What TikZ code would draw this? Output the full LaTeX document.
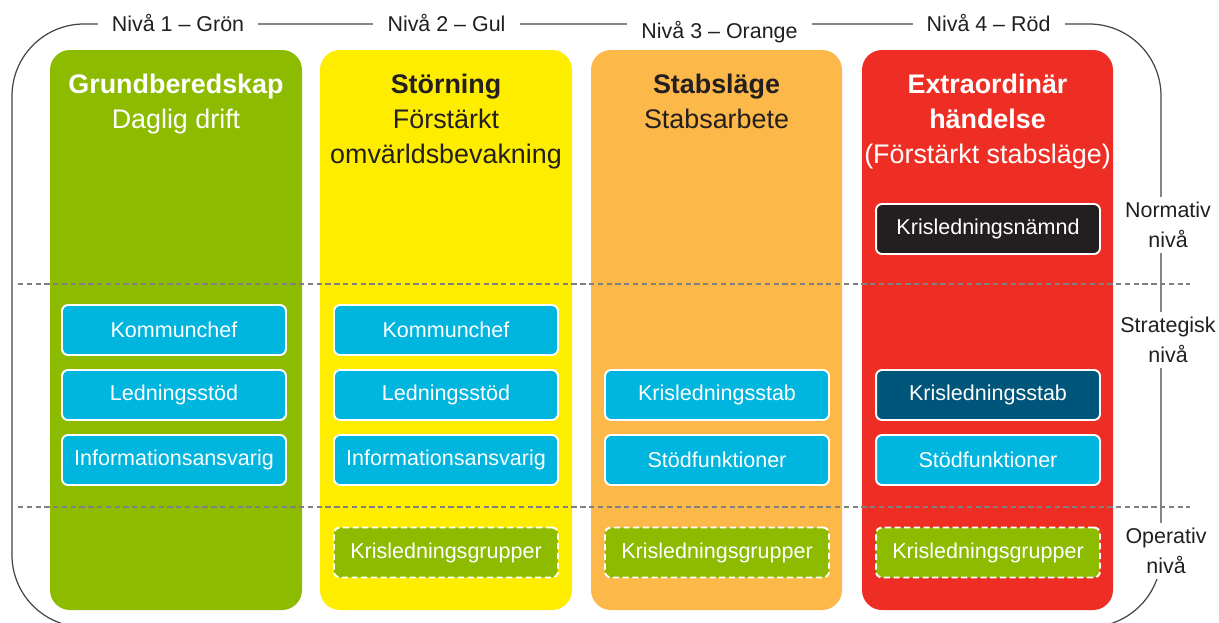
\documentclass[tikz,border=0pt]{standalone}
\usepackage{fontspec}
\setmainfont{Liberation Sans}
\definecolor{cgreen}{RGB}{141,187,0}
\definecolor{cyellow}{RGB}{255,237,0}
\definecolor{corange}{RGB}{252,185,73}
\definecolor{cred}{RGB}{238,46,36}
\definecolor{ccyan}{RGB}{0,181,222}
\definecolor{cdblue}{RGB}{0,85,122}
\definecolor{cdark}{RGB}{35,31,32}
\definecolor{cline}{RGB}{70,70,70}
\definecolor{cdash}{RGB}{128,128,128}
\begin{document}
\begin{tikzpicture}[x=0.02cm,y=-0.02cm,
  col/.style={rounded corners=0.4cm},
  frame/.style={draw=cline, line width=0.7pt},
  levelsep/.style={draw=cdash, line width=0.8pt, dash pattern=on 3pt off 2pt},
  toplabel/.style={fill=white, inner xsep=8pt, inner ysep=2pt, text=cdark, font=\fontsize{12.2}{14}\selectfont},
  sidelabel/.style={fill=white, align=center, inner xsep=1pt, inner ysep=3pt, text=cdark, font=\fontsize{12.2}{17}\selectfont},
  head/.style={anchor=north, align=center, inner sep=0pt, font=\fontsize{15.3}{20.1}\selectfont},
  box/.style={draw=white, line width=1.1pt, rounded corners=0.12cm, minimum width=4.48cm, minimum height=1.0cm, font=\fontsize{12.25}{14}\selectfont, text=white, inner sep=0pt},
  cbox/.style={box, fill=ccyan},
  gbox/.style={box, fill=cgreen, dash pattern=on 3.5pt off 2pt}]
\clip (0,0) rectangle (1219,622);
\fill[white] (0,0) rectangle (1219,622);
% outer frame
\draw[frame, rounded corners=1.44cm] (12,24) rectangle (1161,627);
% columns
\fill[cgreen, col] (50,50) rectangle (302,610);
\fill[cyellow, col] (320,50) rectangle (572,610);
\fill[corange, col] (591,50) rectangle (842,610);
\fill[cred, col] (862,50) rectangle (1113,610);
% level separators
\coordinate (s1a) at (18,284);
\coordinate (s1b) at (1190,284);
\coordinate (s2a) at (18,507);
\coordinate (s2b) at (1190,507);
\draw[levelsep] (s1a) -- (s1b);
\draw[levelsep] (s2a) -- (s2b);
% top labels
\node[toplabel] (l1) at (178,23) {Nivå 1 – Grön};
\node[toplabel] (l2) at (446.5,23) {Nivå 2 – Gul};
\node[toplabel] (l3) at (719.5,32) {Nivå 3 – Orange};
\node[toplabel] (l4) at (988.5,23) {Nivå 4 – Röd};
% side labels
\node[sidelabel] (norm) at (1168,225) {Normativ\\nivå};
\node[sidelabel] (strat) at (1168,340) {Strategisk\\nivå};
\node[sidelabel] (oper) at (1166,551) {Operativ\\nivå};
% headings
\node[head, text=white] (h1) at (176,73.5) {\textbf{Grundberedskap}\\Daglig drift};
\node[head, text=cdark] (h2) at (446,73.5) {\textbf{Störning}\\Förstärkt\\omvärldsbevakning};
\node[head, text=cdark] (h3) at (716.5,73.5) {\textbf{Stabsläge}\\Stabsarbete};
\node[head, text=white] (h4) at (987.5,73.5) {\textbf{Extraordinär}\\\textbf{händelse}\\(Förstärkt stabsläge)};
% column 1
\node[cbox] (k1) at (174,330) {Kommunchef};
\node[cbox] (ls1) at (174,395) {Ledningsstöd};
\node[cbox] (i1) at (174,460) {Informationsansvarig};
% column 2
\node[cbox] (k2) at (446,330) {Kommunchef};
\node[cbox] (ls2) at (446,395) {Ledningsstöd};
\node[cbox] (i2) at (446,460) {Informationsansvarig};
\node[gbox] (g2) at (446,552.5) {Krisledningsgrupper};
% column 3
\node[cbox] (ks3) at (717,395) {Krisledningsstab};
\node[cbox] (sf3) at (717,460) {Stödfunktioner};
\node[gbox] (g3) at (717,552.5) {Krisledningsgrupper};
% column 4
\node[box, fill=cdark] (kn4) at (988,229) {Krisledningsnämnd};
\node[box, fill=cdblue] (ks4) at (988,395) {Krisledningsstab};
\node[cbox] (sf4) at (988,460) {Stödfunktioner};
\node[gbox] (g4) at (988,552.5) {Krisledningsgrupper};
\end{tikzpicture}
\end{document}
